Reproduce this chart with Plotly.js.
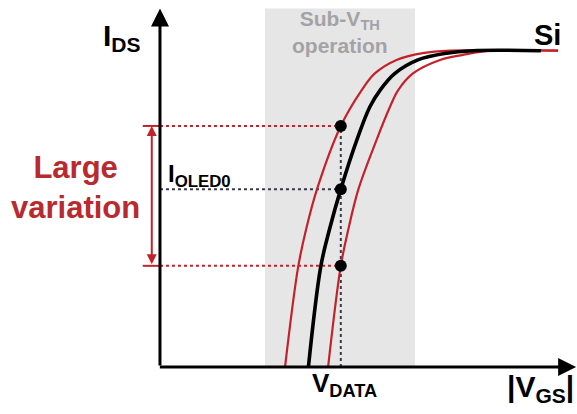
<!DOCTYPE html>
<html>
<head>
<meta charset="utf-8">
<script src="https://cdn.plot.ly/plotly-3.0.1.min.js"></script>
<style>html,body{margin:0;padding:0;background:#fff;}#chart{width:577px;height:414px;}</style>
</head>
<body>
<div id="chart"></div>
<script>
// |V_GS| (arbitrary units) and I_DS (arbitrary units)
const vgsNominal = [3.62, 3.92, 4.13, 4.41, 4.80, 5.12, 5.37, 5.73, 6.29, 6.99, 7.63, 9.29];
const idsNominal = [0, 2.82, 3.86, 5.01, 6.39, 7.33, 7.80, 8.27, 8.65, 8.84, 8.91, 8.91];

const vgsLow = [3.05, 3.37, 3.56, 3.83, 4.41, 4.92, 5.24, 5.77, 6.41, 7.07, 9.71];
const idsLow = [0, 2.82, 3.86, 5.01, 6.79, 7.80, 8.27, 8.65, 8.84, 8.91, 8.91];

const vgsHigh = [4.10, 4.41, 4.59, 4.84, 5.28, 5.61, 5.81, 6.17, 6.83, 7.39, 8.05, 9.71];
const idsHigh = [0, 2.85, 3.86, 5.01, 6.39, 7.33, 7.80, 8.27, 8.65, 8.79, 8.91, 8.91];

const vData = 4.41;
const currentLevels = [6.79, 5.01, 2.85]; // high, I_OLED0, low
const subVthRange = [2.56, 6.22];
const axisMax = [10.15, 10.1];

const red = '#c4222b';
const txtRed = '#b82a2f';
const font = 'Liberation Sans, Arial, sans-serif';

const traces = [];
const skip = {hoverinfo:'skip'};
// dotted guides
traces.push({x:[0, vData], y:[currentLevels[0], currentLevels[0]], mode:'lines', line:{color:red, width:2, dash:'dot'}, ...skip});
traces.push({x:[0, vData], y:[currentLevels[1], currentLevels[1]], mode:'lines', line:{color:'#3a3a4a', width:2, dash:'dot'}, ...skip});
traces.push({x:[0, vData], y:[currentLevels[2], currentLevels[2]], mode:'lines', line:{color:red, width:2, dash:'dot'}, ...skip});
traces.push({x:[vData, vData], y:[0, currentLevels[0]], mode:'lines', line:{color:'#3a3a4a', width:2, dash:'dot'}, ...skip});
// red ticks at the axis
traces.push({x:[-0.42, 0], y:[currentLevels[0], currentLevels[0]], mode:'lines', line:{color:red, width:2}, ...skip});
traces.push({x:[-0.42, 0], y:[currentLevels[2], currentLevels[2]], mode:'lines', line:{color:red, width:2}, ...skip});
// curves
traces.push({x:vgsLow, y:idsLow, mode:'lines', line:{color:red, width:2.2, shape:'spline', smoothing:1}, ...skip});
traces.push({x:vgsHigh, y:idsHigh, mode:'lines', line:{color:red, width:2.2, shape:'spline', smoothing:1}, ...skip});
traces.push({x:vgsNominal, y:idsNominal, mode:'lines', line:{color:'#000', width:3.6, shape:'spline', smoothing:1}, ...skip});
// dots
traces.push({x:[vData, vData, vData], y:currentLevels, mode:'markers', marker:{color:'#000', size:12}, ...skip});

const arrow = {xref:'x', yref:'y', axref:'x', ayref:'y', text:'', showarrow:true};
const annotations = [
  // axes
  Object.assign({x:0, y:axisMax[1], ax:0, ay:0, arrowhead:2, arrowsize:1.2, arrowwidth:3, arrowcolor:'#000'}, arrow),
  Object.assign({x:axisMax[0], y:0, ax:-0.04, ay:0, arrowhead:2, arrowsize:1.2, arrowwidth:3, arrowcolor:'#000'}, arrow),
  // variation arrow
  Object.assign({x:-0.2, y:currentLevels[0], ax:-0.2, ay:currentLevels[2], arrowhead:2, startarrowhead:2, arrowside:'end+start', arrowsize:1, startarrowsize:1, arrowwidth:2, arrowcolor:red}, arrow),
  // labels
  {x:-0.93, y:9.27, xref:'x', yref:'y', text:'<b>I<sub>DS</sub></b>', showarrow:false, font:{family:font, size:30, color:'#000'}},
  {x:9.44, y:9.35, xref:'x', yref:'y', text:'<b>Si</b>', showarrow:false, font:{family:font, size:29, color:'#000'}},
  {x:4.39, y:9.45, xref:'x', yref:'y', text:'<b>Sub-V<sub>TH</sub><br>operation</b>', showarrow:false, font:{family:font, size:21, color:'#a3a3a7'}},
  {x:-2.05, y:5.05, xref:'x', yref:'y', text:'<b>Large<br>variation</b>', showarrow:false, font:{family:font, size:31, color:txtRed}},
  {x:0.15, y:currentLevels[1], xref:'x', yref:'y', xanchor:'left', yanchor:'bottom', yshift:-4, text:'<b>I<sub>OLED0</sub></b>', showarrow:false, font:{family:font, size:24, color:'#000'}},
  {x:vData, y:-0.5, xref:'x', yref:'y', xshift:4, text:'<b>V<sub>DATA</sub></b>', showarrow:false, font:{family:font, size:26, color:'#000'}},
  {x:9.27, y:-0.6, xref:'x', yref:'y', text:'<b>|V<sub>GS</sub>|</b>', showarrow:false, font:{family:font, size:30, color:'#000'}}
];

const layout = {
  width:577, height:414,
  margin:{l:0, r:0, t:0, b:0},
  paper_bgcolor:'#fff', plot_bgcolor:'#fff',
  showlegend:false,
  xaxis:{range:[-3.902, 10.171], visible:false, fixedrange:true},
  yaxis:{range:[-1.324, 10.338], visible:false, fixedrange:true},
  shapes:[{type:'rect', xref:'x', yref:'y', x0:subVthRange[0], x1:subVthRange[1], y0:0, y1:axisMax[1], fillcolor:'#e6e6e6', line:{width:0}, layer:'below'}],
  annotations:annotations
};

Plotly.newPlot('chart', traces, layout, {staticPlot:true, displayModeBar:false});
</script>
</body>
</html>
